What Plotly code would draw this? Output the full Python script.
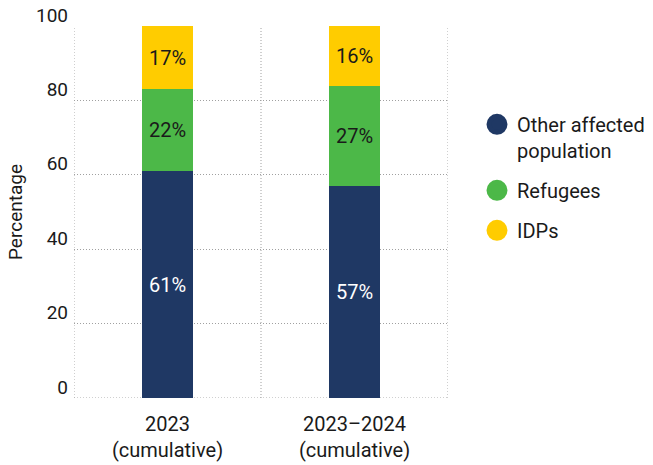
import plotly.graph_objects as go

# data
categories = ["2023<br>(cumulative)", "2023–2024<br>(cumulative)"]
groups = ["Other affected<br>population", "Refugees", "IDPs"]
other_affected = [61, 57]
refugees = [22, 27]
idps = [17, 16]
y_ticks = [0, 20, 40, 60, 80, 100]

colors = ["#1f3864", "#4cb848", "#ffcc00"]
text_colors = ["white", "#1a1a1a", "#1a1a1a"]
FONT = "Roboto"
GRID = "#a0a0a0"

xpos = [i + 0.5 for i in range(len(categories))]

fig = go.Figure()
for name, vals, col, tcol in zip(groups, [other_affected, refugees, idps], colors, text_colors):
    fig.add_trace(go.Bar(x=xpos, y=vals, width=0.27, marker=dict(color=col, line=dict(width=0)),
                         text=[f"{v}%" for v in vals], textposition="inside",
                         insidetextanchor="middle",
                         textfont=dict(color=tcol, size=20, family=FONT),
                         showlegend=False, hoverinfo="skip"))
    # circle markers for the legend
    fig.add_trace(go.Scatter(x=[None], y=[None], mode="markers", name=name, legendgroup=name,
                             marker=dict(color=col, size=16, symbol="circle",
                                         line=dict(color=col, width=5))))

# plot area 74..448 px; paper spans 74..653 so the legend sits inside the paper
fig.update_layout(
    barmode="stack",
    width=653, height=465,
    margin=dict(l=74, r=0, t=26, b=67),
    plot_bgcolor="white", paper_bgcolor="white",
    font=dict(family=FONT, size=19, color="#1a1a1a"),
    xaxis=dict(domain=[0, 374 / 579], range=[0, len(categories)], tickvals=xpos,
               ticktext=categories, showgrid=False, zeroline=False, ticks="",
               tickfont=dict(size=20), ticklabelstandoff=12, automargin=False),
    yaxis=dict(range=[0, 100], tickvals=y_ticks, showgrid=True, gridcolor=GRID,
               griddash="1px,2px", gridwidth=1, zeroline=False, ticks="",
               ticklabelshift=-11, ticklabelstandoff=5, ticklabeloverflow="allow",
               title=dict(text="Percentage", font=dict(size=19), standoff=8),
               tickfont=dict(size=19), automargin=False),
    legend=dict(x=(477 - 74) / 579, y=0.788, xanchor="left", yanchor="top",
                traceorder="grouped", font=dict(size=20), itemsizing="trace",
                tracegroupgap=11, valign="top", bgcolor="rgba(0,0,0,0)"),
)

# vertical grid lines at category boundaries
for xv in range(len(categories) + 1):
    fig.add_shape(type="line", xref="x", yref="y", x0=xv, x1=xv, y0=0, y1=100,
                  line=dict(color=GRID, width=1, dash="1px,2px"), layer="below")
fig.add_shape(type="line", xref="x", yref="y", x0=0, x1=len(categories), y0=0, y1=0,
              line=dict(color=GRID, width=1, dash="1px,2px"), layer="below")

fig.write_html("out.html", config={"displayModeBar": False},
               post_script="document.body.style.margin='0';")
